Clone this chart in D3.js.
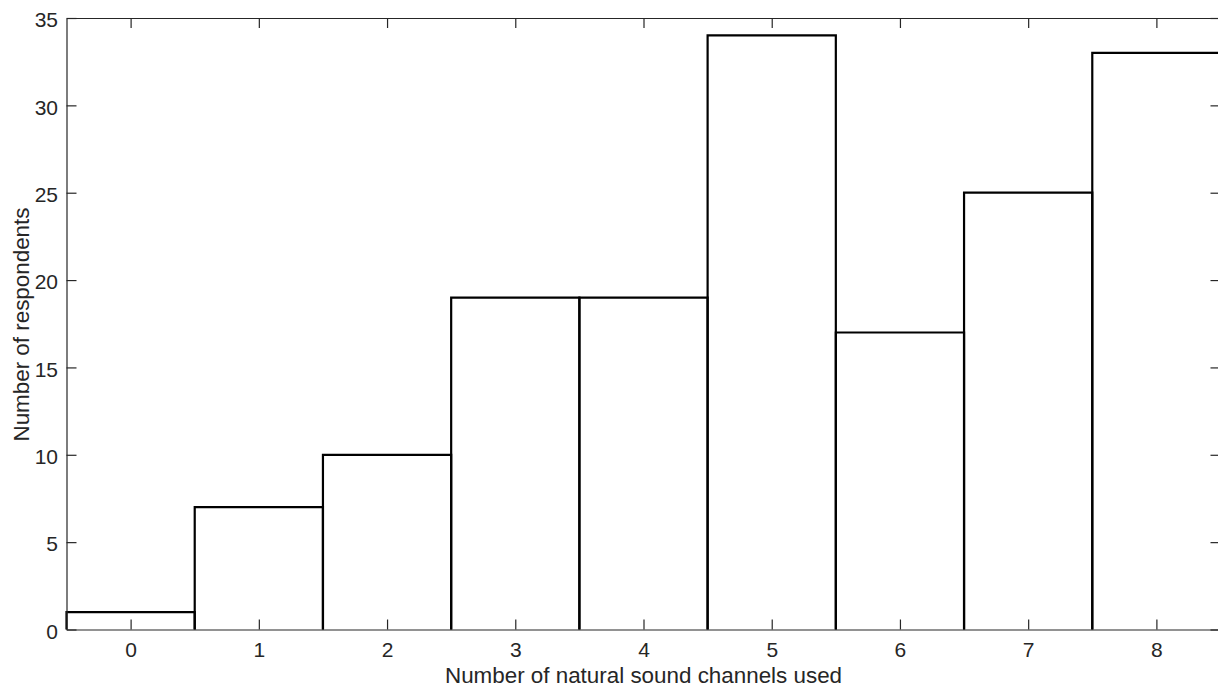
<!DOCTYPE html>
<html>
<head>
<meta charset="utf-8">
<script src="https://cdn.jsdelivr.net/npm/d3@7"></script>
<style>
  html, body { margin: 0; padding: 0; background: #fff; }
  svg { display: block; }
  text { font-family: "Liberation Sans", Arial, sans-serif; fill: #262626; }
</style>
</head>
<body>
<script>
// Histogram: respondents by number of natural sound channels used
const channels = [0, 1, 2, 3, 4, 5, 6, 7, 8];
const respondents = [1, 7, 10, 19, 19, 34, 17, 25, 33];
const yTicks = [0, 5, 10, 15, 20, 25, 30, 35];
const xLabel = "Number of natural sound channels used";
const yLabel = "Number of respondents";

const W = 1218, H = 691;
const plot = { left: 66.5, right: 1220.5, top: 18, bottom: 629.5 };

const svg = d3.select("body").append("svg")
  .attr("width", W).attr("height", H);

const x = d3.scaleLinear().domain([-0.5, 8.5]).range([plot.left, plot.right]);
const y = d3.scaleLinear().domain([0, 35]).range([plot.bottom, plot.top]);

const axisColor = "#262626";
const tickFont = 21;
const titleFont = 22.4;
const tickLen = 10;

// bars: open outlines (left, top, right); the axis line closes the bottom
svg.append("g").selectAll("path")
  .data(channels.map((c, i) => ({ c, v: respondents[i] })))
  .join("path")
  .attr("d", d => {
    const x0 = x(d.c - 0.5), x1 = x(d.c + 0.5), y0 = y(0), y1 = y(d.v);
    return `M${x0},${y0}V${y1}H${x1}V${y0}`;
  })
  .attr("fill", "none")
  .attr("stroke", "#000")
  .attr("stroke-width", 2.2);

// axes box with inward ticks on all sides
function styleAxis(g) {
  g.selectAll("path.domain").attr("stroke", axisColor).attr("stroke-width", 1.2);
  g.selectAll(".tick line").attr("stroke", axisColor).attr("stroke-width", 1.2);
  g.selectAll(".tick text").attr("font-size", tickFont).attr("fill", axisColor)
    .style("font-family", '"Liberation Sans", Arial, sans-serif');
}

svg.append("g")
  .attr("transform", `translate(0,${plot.bottom})`)
  .call(d3.axisBottom(x).tickValues(channels).tickSizeInner(-tickLen).tickSizeOuter(0).tickPadding(13))
  .call(styleAxis);

svg.append("g")
  .attr("transform", `translate(0,${plot.top})`)
  .call(d3.axisTop(x).tickValues(channels).tickSizeInner(-tickLen).tickSizeOuter(0).tickFormat(""))
  .call(styleAxis);

svg.append("g")
  .attr("transform", `translate(${plot.left},0)`)
  .call(d3.axisLeft(y).tickValues(yTicks).tickSizeInner(-tickLen).tickSizeOuter(0).tickPadding(8.5))
  .call(styleAxis)
  .call(g => g.selectAll(".tick text").attr("dy", "0.42em"));

svg.append("g")
  .attr("transform", `translate(${plot.right},0)`)
  .call(d3.axisRight(y).tickValues(yTicks).tickSizeInner(-tickLen).tickSizeOuter(0).tickFormat(""))
  .call(styleAxis);

// axis titles
svg.append("text")
  .attr("x", 643.5)
  .attr("y", 683)
  .attr("text-anchor", "middle")
  .attr("font-size", titleFont)
  .text(xLabel);

svg.append("text")
  .attr("transform", `translate(28.5,${324.5}) rotate(-90)`)
  .attr("text-anchor", "middle")
  .attr("font-size", titleFont)
  .text(yLabel);
</script>
</body>
</html>
